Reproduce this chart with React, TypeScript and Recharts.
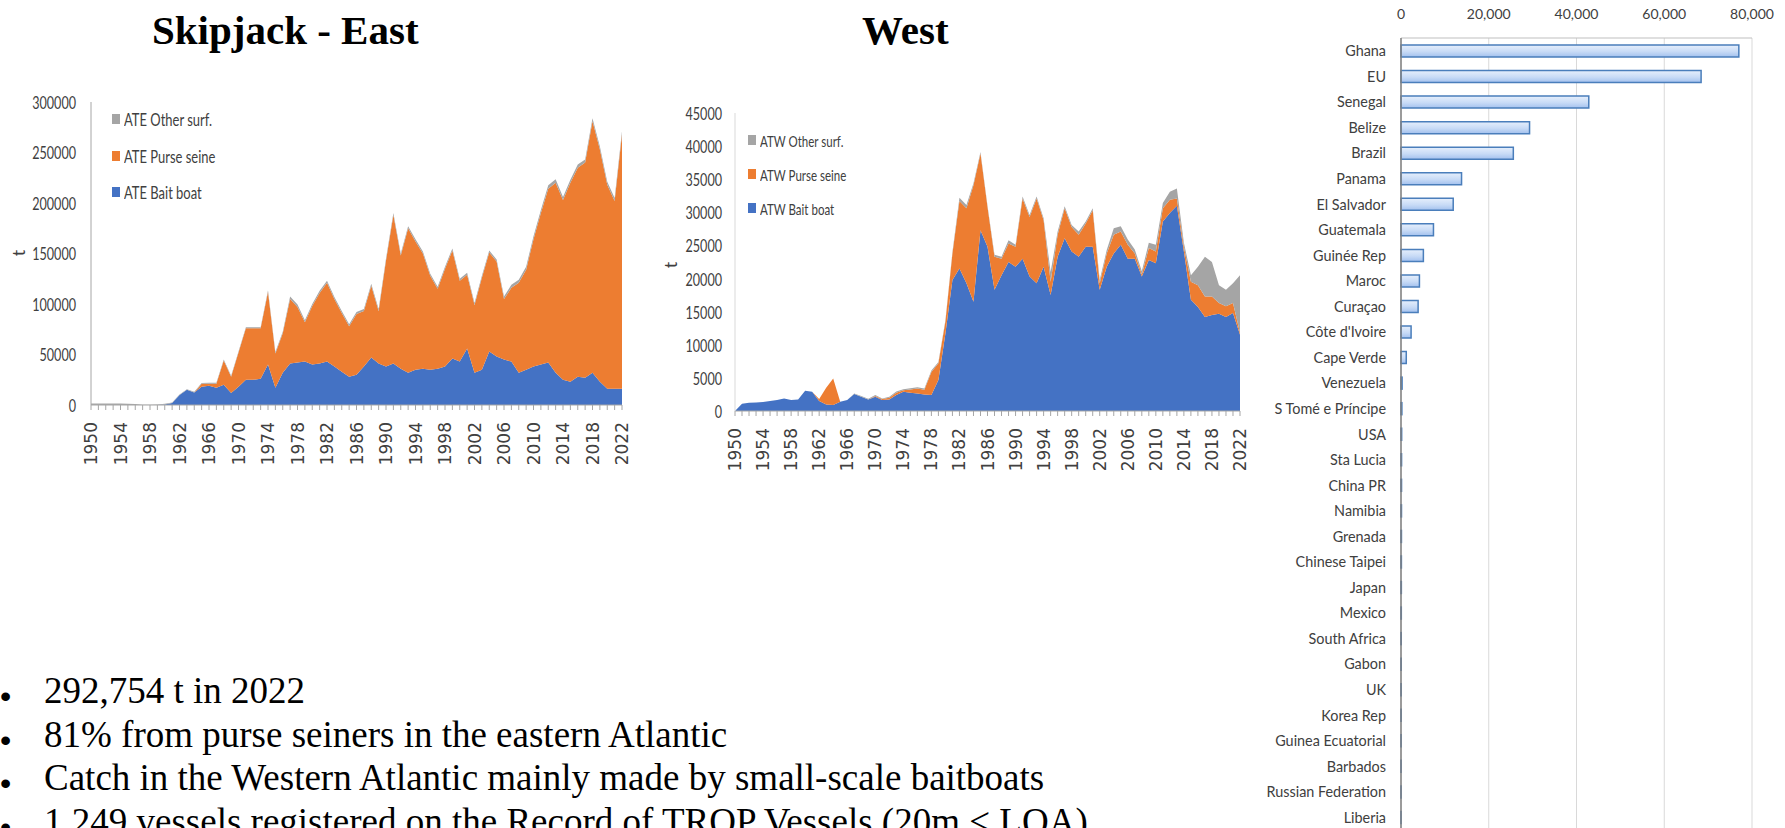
import React from 'react';
import { AreaChart, Area, BarChart, Bar, XAxis, YAxis, CartesianGrid, Legend } from 'recharts';

// Skipjack catches (t) by gear, 1950-2022
const years = Array.from({ length: 73 }, (_, i) => 1950 + i);

const eastBaitBoat = [
  0, 0, 0, 0, 0, 0, 0, 0, 0, 0,
  500, 2000, 10000, 15000, 12500, 18000, 19000, 17000, 20000, 12000,
  18000, 25000, 25000, 26000, 40000, 17000, 32000, 41000, 42000, 43000,
  40000, 41000, 43000, 38000, 33000, 28000, 30000, 38000, 47000, 41000,
  38000, 41000, 36000, 32000, 35000, 36000, 35000, 36000, 38000, 46000,
  43000, 56000, 32000, 35000, 53000, 48000, 45000, 43000, 32000, 35000,
  38000, 40000, 42000, 32000, 25000, 23000, 28000, 27000, 32000, 23000,
  16000, 16000, 16000,
];
const eastPurseSeine = [
  0, 0, 0, 0, 0, 0, 0, 0, 0, 0,
  0, 0, 0, 0, 0, 3000, 2000, 4000, 24000, 16000,
  34000, 51000, 51000, 50000, 72000, 34000, 39000, 64000, 55000, 39000,
  58000, 70000, 78000, 67000, 58000, 50000, 60000, 55000, 71000, 52000,
  105000, 147000, 112000, 143000, 127000, 114000, 93000, 79000, 97000, 107000,
  80000, 73000, 67000, 91000, 98000, 94000, 60000, 73000, 89000, 99000,
  126000, 150000, 172000, 188000, 178000, 197000, 207000, 213000, 249000, 230000,
  202000, 186000, 252000,
];
const eastOtherSurf = [
  1500, 1500, 1500, 1500, 1500, 1200, 1000, 300, 200, 500,
  800, 500, 500, 500, 500, 800, 1000, 1000, 1000, 1000,
  1000, 1000, 1000, 1000, 1500, 1500, 1500, 2500, 2500, 2000,
  2000, 2000, 2000, 2000, 2000, 2000, 2000, 2000, 2000, 2000,
  2000, 2000, 2000, 2000, 2000, 2000, 2000, 2000, 2000, 2000,
  2000, 2000, 2000, 2000, 2000, 2000, 2500, 3000, 3000, 3000,
  3000, 3000, 3500, 3500, 3000, 3000, 3000, 3000, 3000, 3000,
  3000, 3000, 3000,
];

const westBaitBoat = [
  0, 1100, 1250, 1300, 1350, 1500, 1650, 1900, 1650, 1750,
  3050, 2900, 1500, 1000, 900, 1400, 1650, 2550, 2150, 1750,
  2150, 1650, 1750, 2400, 2900, 2750, 2650, 2500, 2400, 4700,
  11700, 19800, 21500, 19300, 16500, 27300, 24800, 18300, 20500, 22500,
  21800, 23000, 20300, 19300, 21800, 17500, 23300, 26100, 24100, 23300,
  24800, 24800, 18300, 21800, 23800, 25100, 23000, 23000, 20300, 22800,
  22300, 28600, 29900, 31000, 24100, 16800, 15700, 14200, 14500, 14700,
  14200, 14800, 11500,
];
const westPurseSeine = [
  0, 0, 0, 0, 0, 0, 0, 0, 0, 0,
  0, 0, 300, 2500, 4000, 0, 0, 0, 0, 0,
  100, 150, 250, 350, 250, 500, 750, 700, 3500, 2500,
  1800, 4000, 10200, 11300, 17600, 11600, 6000, 5000, 2500, 2800,
  3000, 9100, 9000, 12800, 7000, 2000, 3300, 4500, 3700, 3300,
  3500, 5500, 1000, 2000, 2800, 2000, 2100, 800, 300, 1800,
  1800, 2000, 2000, 1100, 700, 2700, 3300, 3100, 2800, 1600,
  1600, 1500, 300,
];
const westOtherSurf = [
  0, 0, 0, 0, 0, 0, 0, 0, 0, 0,
  0, 0, 0, 0, 0, 0, 0, 100, 100, 100,
  150, 100, 150, 200, 150, 200, 200, 200, 200, 200,
  200, 200, 500, 500, 300, 200, 200, 300, 300, 500,
  300, 300, 300, 300, 300, 1500, 500, 300, 300, 500,
  300, 300, 500, 500, 1000, 800, 800, 600, 500, 800,
  1000, 800, 1200, 1500, 600, 1000, 2800, 6000, 5200, 2700,
  2500, 3000, 8700,
];

const eastTicks = [0, 50000, 100000, 150000, 200000, 250000, 300000];
const westTicks = [0, 5000, 10000, 15000, 20000, 25000, 30000, 35000, 40000, 45000];

// catch by fleet (t)
const fleets = [
  'Ghana', 'EU', 'Senegal', 'Belize', 'Brazil', 'Panama', 'El Salvador', 'Guatemala',
  'Guinée Rep', 'Maroc', 'Curaçao', "Côte d'Ivoire", 'Cape Verde', 'Venezuela',
  'S Tomé e Príncipe', 'USA', 'Sta Lucia', 'China PR', 'Namibia', 'Grenada',
  'Chinese Taipei', 'Japan', 'Mexico', 'South Africa', 'Gabon', 'UK', 'Korea Rep',
  'Guinea Ecuatorial', 'Barbados', 'Russian Federation', 'Liberia',
];
const fleetCatch = [
  77000, 68400, 42800, 29300, 25600, 13800, 11900, 7400,
  5100, 4200, 3900, 2300, 1200, 250,
  200, 150, 130, 120, 110, 100,
  90, 80, 70, 60, 50, 40, 35,
  30, 25, 20, 15,
];
const fleetTicks = [0, 20000, 40000, 60000, 80000];

const bullets = [
  '292,754 t in 2022',
  '81% from purse seiners in the eastern Atlantic',
  'Catch in the Western Atlantic mainly made by small-scale baitboats',
  '1,249 vessels registered on the Record of TROP Vessels (20m < LOA)',
];

const COLORS = { bait: '#4472c4', purse: '#ed7d31', other: '#a5a5a5' };
const TEXT = '#404040';

const eastData = years.map((year, i) => ({
  year,
  bait: eastBaitBoat[i],
  purse: eastPurseSeine[i],
  other: eastOtherSurf[i],
}));
const westData = years.map((year, i) => ({
  year,
  bait: westBaitBoat[i],
  purse: westPurseSeine[i],
  other: westOtherSurf[i],
}));
const fleetData = fleets.map((fleet, i) => ({ fleet, value: fleetCatch[i] }));

// narrow (squeezed) value labels like the pasted Excel pictures
function NarrowTick({ x, y, payload }: any) {
  return (
    <text
      transform={`translate(${x},${y}) scale(0.7,1)`}
      textAnchor="end"
      dominantBaseline="central"
      fontFamily="Lato"
      fontSize={18}
      fill={TEXT}
    >
      {payload.value}
    </text>
  );
}

// every year gets a tick mark, only every 4th year a label
function YearTick({ x, payload, top }: any) {
  if ((payload.value - 1950) % 4 !== 0) return <g />;
  return (
    <text
      transform={`translate(${x},${top}) rotate(-90)`}
      textAnchor="end"
      dominantBaseline="central"
      fontFamily="DejaVu Sans"
      fontSize={17}
      fill={TEXT}
    >
      {payload.value}
    </text>
  );
}

function GearLegend({ prefix, fontSize, pitch }: { prefix: string; fontSize: number; pitch: number }) {
  const items = [
    { name: `${prefix} Other surf.`, color: COLORS.other },
    { name: `${prefix} Purse seine`, color: COLORS.purse },
    { name: `${prefix} Bait boat`, color: COLORS.bait },
  ];
  return (
    <div style={{ position: 'relative', width: 120, height: pitch * 3 }}>
      {items.map((it, i) => (
        <div
          key={it.name}
          style={{
            position: 'absolute',
            left: 0,
            top: i * pitch,
            height: pitch,
            display: 'flex',
            alignItems: 'center',
            whiteSpace: 'nowrap',
          }}
        >
          <span style={{ display: 'inline-block', width: 8, height: 10, background: it.color, marginRight: 4 }} />
          <span
            style={{
              display: 'inline-block',
              fontFamily: 'Lato',
              fontSize,
              color: TEXT,
              transform: 'scaleX(0.72)',
              transformOrigin: 'left center',
            }}
          >
            {it.name}
          </span>
        </div>
      ))}
    </div>
  );
}

function FleetTopTick({ x, payload }: any) {
  return (
    <text x={x} y={13} textAnchor="middle" dominantBaseline="central" fontFamily="Lato" fontSize={14} fill={TEXT}>
      {payload.value.toLocaleString('en-US')}
    </text>
  );
}

function FleetTick({ x, y, payload }: any) {
  return (
    <text x={x} y={y} textAnchor="end" dominantBaseline="central" fontFamily="Lato" fontSize={14.4} fill={TEXT}>
      {payload.value}
    </text>
  );
}

export default function App() {
  return (
    <div style={{ position: 'absolute', left: 0, top: 0, width: 1785, height: 828, overflow: 'hidden', background: '#fff' }}>
      {/* East */}
      <div style={{ position: 'absolute', left: 0, top: 0 }}>
        <AreaChart width={640} height={480} data={eastData} margin={{ top: 102, right: 18, bottom: 0, left: 0 }}>
          <XAxis
            dataKey="year"
            interval={0}
            tickSize={5}
            height={75}
            axisLine={{ stroke: '#a6a6a6' }}
            tickLine={{ stroke: '#a6a6a6' }}
            tick={(p: any) => <YearTick {...p} top={422} />}
          />
          <YAxis
            domain={[0, 300000]}
            ticks={eastTicks}
            width={91}
            tickSize={0}
            tickMargin={15}
            axisLine={{ stroke: '#a6a6a6' }}
            tickLine={false}
            tick={<NarrowTick />}
          />
          <Legend
            layout="vertical"
            align="center"
            verticalAlign="middle"
            wrapperStyle={{ left: 112, top: 101, width: 140 }}
            content={() => <GearLegend prefix="ATE" fontSize={18} pitch={36.5} />}
          />
          <Area type="linear" dataKey="bait" name="ATE Bait boat" stackId="e" fill={COLORS.bait} stroke="none" fillOpacity={1} isAnimationActive={false} />
          <Area type="linear" dataKey="purse" name="ATE Purse seine" stackId="e" fill={COLORS.purse} stroke="none" fillOpacity={1} isAnimationActive={false} />
          <Area type="linear" dataKey="other" name="ATE Other surf." stackId="e" fill={COLORS.other} stroke="none" fillOpacity={1} isAnimationActive={false} />
        </AreaChart>
      </div>

      {/* West */}
      <div style={{ position: 'absolute', left: 640, top: 0 }}>
        <AreaChart width={620} height={480} data={westData} margin={{ top: 113, right: 20, bottom: 0, left: 0 }}>
          <XAxis
            dataKey="year"
            interval={0}
            tickSize={5}
            height={69}
            axisLine={{ stroke: '#a6a6a6' }}
            tickLine={{ stroke: '#a6a6a6' }}
            tick={(p: any) => <YearTick {...p} top={428} />}
          />
          <YAxis
            domain={[0, 45000]}
            ticks={westTicks}
            width={95}
            tickSize={0}
            tickMargin={13}
            axisLine={{ stroke: '#d9d9d9' }}
            tickLine={false}
            tick={<NarrowTick />}
          />
          <Legend
            layout="vertical"
            align="center"
            verticalAlign="middle"
            wrapperStyle={{ left: 108, top: 123, width: 140 }}
            content={() => <GearLegend prefix="ATW" fontSize={16} pitch={34} />}
          />
          <Area type="linear" dataKey="bait" name="ATW Bait boat" stackId="w" fill={COLORS.bait} stroke="none" fillOpacity={1} isAnimationActive={false} />
          <Area type="linear" dataKey="purse" name="ATW Purse seine" stackId="w" fill={COLORS.purse} stroke="none" fillOpacity={1} isAnimationActive={false} />
          <Area type="linear" dataKey="other" name="ATW Other surf." stackId="w" fill={COLORS.other} stroke="none" fillOpacity={1} isAnimationActive={false} />
        </AreaChart>
      </div>

      {/* Catch by fleet */}
      <div style={{ position: 'absolute', left: 1200, top: 0 }}>
        <BarChart width={585} height={830} data={fleetData} layout="vertical" margin={{ top: 0, right: 33, bottom: 0, left: 0 }} barSize={12}>
          <defs>
            <linearGradient id="fleetFill" x1="0" y1="0" x2="0" y2="1">
              <stop offset="0%" stopColor="#e6effc" />
              <stop offset="55%" stopColor="#c8dbf6" />
              <stop offset="100%" stopColor="#a3c1ee" />
            </linearGradient>
          </defs>
          <CartesianGrid horizontal={false} stroke="#d9d9d9" />
          <XAxis
            type="number"
            orientation="top"
            domain={[0, 80000]}
            ticks={fleetTicks}
            height={38}
            axisLine={{ stroke: '#bfbfbf' }}
            tickLine={false}
            tick={<FleetTopTick />}
          />
          <YAxis
            type="category"
            dataKey="fleet"
            width={201}
            interval={0}
            tickSize={0}
            tickMargin={15}
            axisLine={{ stroke: '#808080', strokeWidth: 1.5 }}
            tickLine={false}
            tick={<FleetTick />}
          />
          <Bar dataKey="value" fill="url(#fleetFill)" stroke="#4a7ebb" strokeWidth={1.5} isAnimationActive={false} />
        </BarChart>
      </div>

      {/* titles, axis units and notes */}
      <svg width={1785} height={828} style={{ position: 'absolute', left: 0, top: 0, pointerEvents: 'none' }}>
        <text x={152} y={44} fontFamily="Liberation Serif" fontWeight="bold" fontSize={41} fill="#000">
          Skipjack - East
        </text>
        <text x={862} y={44} fontFamily="Liberation Serif" fontWeight="bold" fontSize={41} fill="#000">
          West
        </text>
        <text transform="translate(18,253) rotate(-90)" textAnchor="middle" dominantBaseline="central" fontFamily="Lato" fontSize={18} fill={TEXT}>
          t
        </text>
        <text transform="translate(670,265) rotate(-90)" textAnchor="middle" dominantBaseline="central" fontFamily="Lato" fontSize={18} fill={TEXT}>
          t
        </text>
        {bullets.map((b, i) => (
          <g key={b}>
            <text x={0} y={703 + i * 43.5 + 4} fontFamily="Liberation Sans" fontSize={32} fill="#000">
              •
            </text>
            <text x={44} y={703 + i * 43.5} fontFamily="Liberation Serif" fontSize={37} fill="#000">
              {b}
            </text>
          </g>
        ))}
      </svg>
    </div>
  );
}
